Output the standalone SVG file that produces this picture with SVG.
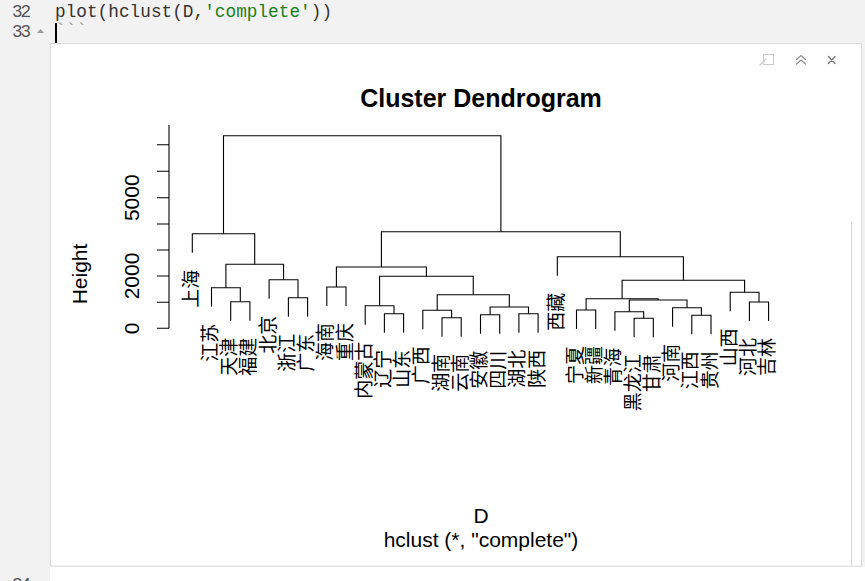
<svg xmlns="http://www.w3.org/2000/svg" width="865" height="581" viewBox="0 0 865 581">
<style>
.code{font-family:"Liberation Mono","DejaVu Sans Mono",monospace;font-size:17.7px;fill:#333}
.ln{font-family:"Liberation Mono","DejaVu Sans Mono",monospace;font-size:17.7px;fill:#555}
.tree{fill:none;stroke:#000;stroke-width:1.1}
.lab{font-family:"Noto Sans CJK SC","Noto Sans CJK JP",sans-serif;font-size:19px;fill:#000;text-anchor:end;dominant-baseline:central}
.ax{font-family:"Liberation Sans",Arial,sans-serif;font-size:21px;fill:#000;text-anchor:middle}
.title{font-family:"Liberation Sans",Arial,sans-serif;font-size:25px;font-weight:bold;fill:#000;text-anchor:middle}
</style>
<rect x="0" y="0" width="865" height="581" fill="#f2f2f2"/>
<rect x="50" y="567" width="815" height="14" fill="#ffffff"/>
<g id="editor">
<text class="ln" x="12" y="17" textLength="19">32</text>
<text class="ln" x="12" y="37" textLength="19">33</text>
<polygon points="37,33 44,33 40.5,29" fill="#999"/>
<text class="code" x="55" y="17" textLength="277">plot(hclust(D,<tspan fill="#1a7d1a">'complete'</tspan>))</text>
<text class="code" x="55" y="36" style="fill:#999">```</text>
<rect x="55" y="23" width="2" height="20" fill="#000"/>
<text class="ln" x="12" y="590" textLength="19">34</text>
</g>
<rect x="50.5" y="43.5" width="811" height="522.5" fill="#ffffff" stroke="#dcdcdc" stroke-width="1"/>
<line x1="851.5" y1="222" x2="851.5" y2="565" stroke="#d4d4d4" stroke-width="1"/>
<g id="icons" fill="none" stroke-linecap="round">
<rect x="763.5" y="54.5" width="10" height="10" stroke="#c8c8c8" stroke-width="1"/>
<path d="M760 65 L766 59" stroke="#c8c8c8" stroke-width="1.2"/>
<path d="M796.5 59.5 L801 55.5 L805.5 59.5 M796.5 64 L801 60 L805.5 64" stroke="#888" stroke-width="1.2"/>
<path d="M828.5 56.5 L835 63.5 M835 56.5 L828.5 63.5" stroke="#777" stroke-width="1.4"/>
</g>
<text class="title" x="481" y="107.3">Cluster Dendrogram</text>
<g id="axis">
<line x1="169" y1="125" x2="169" y2="328.3" stroke="#000" stroke-width="1.1"/>
<path d="M157 328.3H169M157 302.3H169M157 276H169M157 250H169M157 224H169M157 197.7H169M157 171.3H169M157 144.7H169" stroke="#000" stroke-width="1.1" fill="none"/>
<text class="ax" transform="translate(139.3,328.3) rotate(-90)">0</text>
<text class="ax" transform="translate(139.3,276) rotate(-90)">2000</text>
<text class="ax" transform="translate(139.3,197.7) rotate(-90)">5000</text>
<text class="ax" transform="translate(87,274) rotate(-90)">Height</text>
</g>
<text class="ax" x="481" y="522.7">D</text>
<text class="ax" x="481" y="546.7">hclust (*, "complete")</text>
<g id="connectors" class="tree">
<path d="M230.7 320.7V301.7H249.9V320.7"/>
<path d="M211.5 306.7V287.7H240.3V301.7"/>
<path d="M288.4 316.7V297.7H307.6V316.7"/>
<path d="M269.1 298.7V279.7H298.0V297.7"/>
<path d="M225.9 287.7V264.3H283.55V279.7"/>
<path d="M192.3 252.7V233.7H254.7V264.3"/>
<path d="M326.8 306V287H346.0V306"/>
<path d="M384.4 332.7V313.7H403.6V332.7"/>
<path d="M365.2 324.7V305.7H394.0V313.7"/>
<path d="M442.0 336.7V317.7H461.2V336.7"/>
<path d="M422.8 329.3V310.3H451.6V317.7"/>
<path d="M480.5 333.7V314.7H499.7V333.7"/>
<path d="M518.9 332.7V313.7H538.1V332.7"/>
<path d="M490.1 314.7V307H528.5V313.7"/>
<path d="M437.2 310.3V294.7H509.3V307"/>
<path d="M379.6 305.7V276.3H473.25V294.7"/>
<path d="M336.4 287V267H426.4V276.3"/>
<path d="M576.5 329V310H595.7V329"/>
<path d="M634.1 337.3V318.3H653.3V337.3"/>
<path d="M614.9 330.7V311.7H643.7V318.3"/>
<path d="M691.8 334.3V315.3H711.0V334.3"/>
<path d="M672.6 326.7V307.7H701.4V315.3"/>
<path d="M629.3 311.7V300H687.0V307.7"/>
<path d="M586.1 310V298.7H658.15V300"/>
<path d="M749.4 321V302H768.6V321"/>
<path d="M730.2 311.3V292.3H759.0V302"/>
<path d="M622.1 298.7V280.3H744.6V292.3"/>
<path d="M557.3 275.7V256.7H683.4V280.3"/>
<path d="M381.4 267V231.7H620.3V256.7"/>
<path d="M223.5 233.7V135.7H500.9V231.7"/>
</g>
<g id="leaf-shanghai"><text class="lab" transform="translate(189.3,269.7) rotate(-90)">上海</text></g>
<g id="leaf-jiangsu"><text class="lab" transform="translate(208.5,323.7) rotate(-90)">江苏</text></g>
<g id="leaf-tianjin"><text class="lab" transform="translate(227.7,337.7) rotate(-90)">天津</text></g>
<g id="leaf-fujian"><text class="lab" transform="translate(246.9,337.7) rotate(-90)">福建</text></g>
<g id="leaf-beijing"><text class="lab" transform="translate(266.1,315.7) rotate(-90)">北京</text></g>
<g id="leaf-zhejiang"><text class="lab" transform="translate(285.4,333.7) rotate(-90)">浙江</text></g>
<g id="leaf-guangdong"><text class="lab" transform="translate(304.6,333.7) rotate(-90)">广东</text></g>
<g id="leaf-hainan"><text class="lab" transform="translate(323.8,323) rotate(-90)">海南</text></g>
<g id="leaf-chongqing"><text class="lab" transform="translate(343.0,323) rotate(-90)">重庆</text></g>
<g id="leaf-neimenggu"><text class="lab" transform="translate(362.2,341.7) rotate(-90)">内蒙古</text></g>
<g id="leaf-liaoning"><text class="lab" transform="translate(381.4,349.7) rotate(-90)">辽宁</text></g>
<g id="leaf-shandong"><text class="lab" transform="translate(400.6,349.7) rotate(-90)">山东</text></g>
<g id="leaf-guangxi"><text class="lab" transform="translate(419.8,346.3) rotate(-90)">广西</text></g>
<g id="leaf-hunan"><text class="lab" transform="translate(439.0,353.7) rotate(-90)">湖南</text></g>
<g id="leaf-yunnan"><text class="lab" transform="translate(458.2,353.7) rotate(-90)">云南</text></g>
<g id="leaf-anhui"><text class="lab" transform="translate(477.5,350.7) rotate(-90)">安徽</text></g>
<g id="leaf-sichuan"><text class="lab" transform="translate(496.7,350.7) rotate(-90)">四川</text></g>
<g id="leaf-hubei"><text class="lab" transform="translate(515.9,349.7) rotate(-90)">湖北</text></g>
<g id="leaf-shaanxi"><text class="lab" transform="translate(535.1,349.7) rotate(-90)">陕西</text></g>
<g id="leaf-xizang"><text class="lab" transform="translate(554.3,292.7) rotate(-90)">西藏</text></g>
<g id="leaf-ningxia"><text class="lab" transform="translate(573.5,346) rotate(-90)">宁夏</text></g>
<g id="leaf-xinjiang"><text class="lab" transform="translate(592.7,346) rotate(-90)">新疆</text></g>
<g id="leaf-qinghai"><text class="lab" transform="translate(611.9,347.7) rotate(-90)">青海</text></g>
<g id="leaf-heilongjiang"><text class="lab" transform="translate(631.1,354.3) rotate(-90)">黑龙江</text></g>
<g id="leaf-gansu"><text class="lab" transform="translate(650.3,354.3) rotate(-90)">甘肃</text></g>
<g id="leaf-henan"><text class="lab" transform="translate(669.6,343.7) rotate(-90)">河南</text></g>
<g id="leaf-jiangxi"><text class="lab" transform="translate(688.8,351.3) rotate(-90)">江西</text></g>
<g id="leaf-guizhou"><text class="lab" transform="translate(708.0,351.3) rotate(-90)">贵州</text></g>
<g id="leaf-shanxi"><text class="lab" transform="translate(727.2,328.3) rotate(-90)">山西</text></g>
<g id="leaf-hebei"><text class="lab" transform="translate(746.4,338) rotate(-90)">河北</text></g>
<g id="leaf-jilin"><text class="lab" transform="translate(765.6,338) rotate(-90)">吉林</text></g>
</svg>
